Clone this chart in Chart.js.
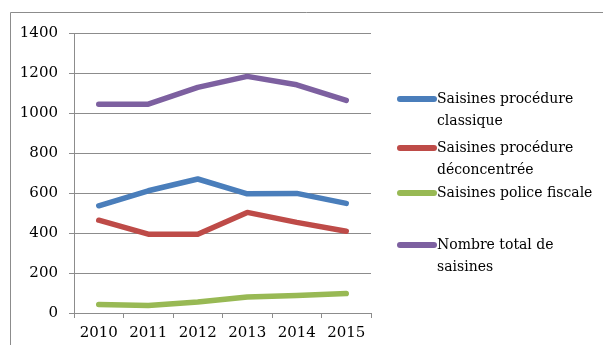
<!DOCTYPE html>
<html>
<head>
<meta charset="utf-8">
<script src="https://cdn.jsdelivr.net/npm/chart.js@4/dist/chart.umd.min.js"></script>
<style>
    html, body { margin: 0; padding: 0; background: #fff; }
    #wrap { width: 603px; height: 345px; position: relative; }
</style>
</head>
<body>
<div id="wrap"><canvas id="chart-saisines" width="603" height="345"></canvas></div>
<script>
const years = ['2010', '2011', '2012', '2013', '2014', '2015'];
const classique = [536, 611, 670, 596, 598, 548];
const deconcentree = [464, 394, 394, 503, 453, 409];
const policeFiscale = [42, 37, 55, 80, 87, 97];
const totalSaisines = [1044, 1044, 1128, 1183, 1141, 1063];

const seriesNames = [
    ['Saisines procédure', 'classique'],
    ['Saisines procédure', 'déconcentrée'],
    ['Saisines police fiscale'],
    ['Nombre total de', 'saisines']
];

const FONT = '"DejaVu Serif", serif';
const GRID = '#8c8c8c';

// outer frame + wrapped legend on the right
const framePlugin = {
    id: 'frame',
    beforeDraw(chart) {
        const ctx = chart.ctx;
        ctx.save();
        ctx.strokeStyle = '#8c8c8c';
        ctx.lineWidth = 1;
        ctx.beginPath();
        ctx.moveTo(10.5, 345);
        ctx.lineTo(10.5, 12.5);
        ctx.lineTo(603, 12.5);
        ctx.stroke();
        ctx.restore();
    }
};

const sideLegend = {
    id: 'sideLegend',
    afterDraw(chart) {
        const ctx = chart.ctx;
        const rowY = [99, 148, 193, 245];
        ctx.save();
        chart.data.datasets.forEach((ds, i) => {
            const y = rowY[i];
            ctx.strokeStyle = ds.borderColor;
            ctx.lineWidth = 6;
            ctx.lineCap = 'round';
            ctx.beginPath();
            ctx.moveTo(400, y);
            ctx.lineTo(434, y);
            ctx.stroke();
            ctx.fillStyle = '#000';
            ctx.font = '14px ' + FONT;
            ctx.textBaseline = 'middle';
            seriesNames[i].forEach((line, j) => {
                ctx.fillText(line, 437, y + j * 22);
            });
        });
        ctx.restore();
    }
};

new Chart(document.getElementById('chart-saisines').getContext('2d'), {
    type: 'line',
    data: {
        labels: years,
        datasets: [
            { label: seriesNames[0].join(' '), data: classique, borderColor: '#4a7ebb' },
            { label: seriesNames[1].join(' '), data: deconcentree, borderColor: '#be4b48' },
            { label: seriesNames[2].join(' '), data: policeFiscale, borderColor: '#98b954' },
            { label: seriesNames[3].join(' '), data: totalSaisines, borderColor: '#7d60a0' }
        ].map(d => Object.assign(d, {
            borderWidth: 5.5,
            tension: 0,
            pointRadius: 0,
            borderCapStyle: 'round',
            borderJoinStyle: 'round'
        }))
    },
    options: {
        responsive: false,
        animation: false,
        layout: { padding: { left: 0, top: 33, right: 232, bottom: 0 } },
        scales: {
            x: {
                offset: true,
                grid: { offset: true, drawOnChartArea: false, color: GRID, tickLength: 5 },
                border: { color: GRID },
                ticks: { color: '#000', font: { family: FONT, size: 15 }, padding: 6, maxRotation: 0 },
                afterFit: s => { s.height = 32; }
            },
            y: {
                min: 0,
                max: 1400,
                ticks: {
                    stepSize: 200,
                    color: '#000',
                    font: { family: FONT, size: 15 },
                    padding: 11,
                    callback: v => String(v)
                },
                grid: { color: GRID, tickLength: 5 },
                border: { color: GRID },
                afterFit: s => { s.width = 74; }
            }
        },
        plugins: {
            legend: { display: false },
            tooltip: { enabled: false }
        }
    },
    plugins: [framePlugin, sideLegend]
});
</script>
</body>
</html>
